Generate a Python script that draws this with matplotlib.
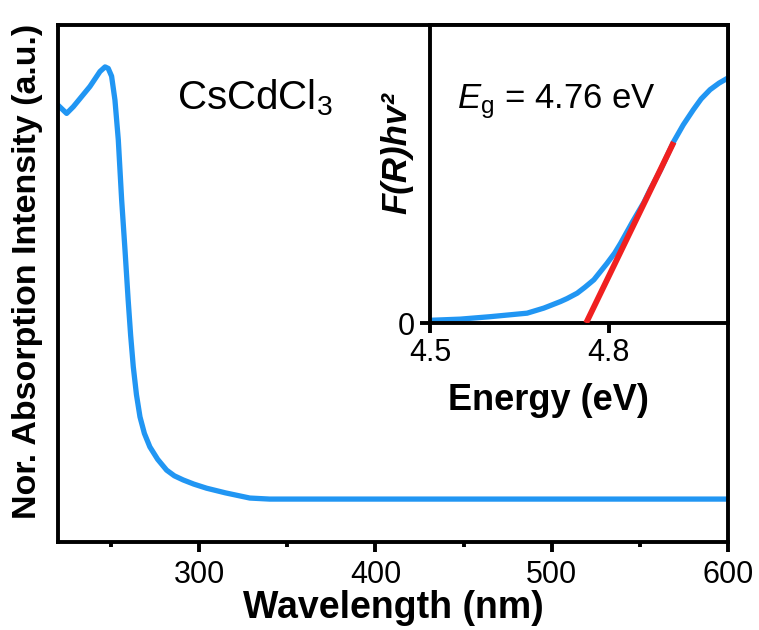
import matplotlib
matplotlib.use("Agg")
import matplotlib.pyplot as plt

plt.rcParams['font.family'] = ['Liberation Sans', 'DejaVu Sans']
plt.rcParams['mathtext.fontset'] = 'custom'
plt.rcParams['mathtext.rm'] = 'Liberation Sans'
plt.rcParams['mathtext.it'] = 'Liberation Sans:italic'
plt.rcParams['mathtext.bf'] = 'Liberation Sans:bold'

# main absorption spectrum (normalised)
wavelength = [220, 224.9, 228.7, 238.1, 243.8, 246.7, 248.5, 250.4, 252.3, 254.2,
              256.1, 258.0, 259.8, 261.2, 262.7, 264.5, 266.5, 269.0, 272.1, 276.5,
              281.6, 286.0, 291.0, 297.0, 304.3, 315.0, 328.8, 340.0, 400.0, 500.0, 600.0]
absorption = [0.845, 0.829, 0.842, 0.881, 0.910, 0.919, 0.916, 0.901, 0.855, 0.778,
              0.662, 0.565, 0.468, 0.400, 0.339, 0.285, 0.242, 0.210, 0.184, 0.160,
              0.139, 0.128, 0.120, 0.112, 0.104, 0.095, 0.085, 0.083, 0.083, 0.083, 0.083]

# inset Tauc plot
energy = [4.50, 4.551, 4.60, 4.663, 4.691, 4.70, 4.719, 4.73, 4.747, 4.76, 4.775,
          4.785, 4.797, 4.81, 4.820, 4.84, 4.859, 4.87, 4.887, 4.909, 4.925, 4.942,
          4.955, 4.970, 4.985, 4.998]
tauc = [0.009, 0.013, 0.021, 0.033, 0.050, 0.057, 0.072, 0.082, 0.100, 0.120, 0.145,
        0.170, 0.200, 0.235, 0.268, 0.340, 0.405, 0.450, 0.514, 0.609, 0.665, 0.716,
        0.752, 0.783, 0.805, 0.820]
fit_x = [4.762, 4.909]
fit_y = [0.0, 0.607]

blue = '#2196F3'
red = '#F02020'

fig = plt.figure(figsize=(7.59, 6.3), dpi=100)
ax = fig.add_axes([0.0764, 0.1397, 0.8828, 0.8206])
ax.plot(wavelength, absorption, color=blue, lw=3.8, solid_joinstyle='round')
ax.set_xlim(220, 600)
ax.set_ylim(0, 1)
ax.set_xticks([300, 400, 500, 600])
ax.set_xticks([250, 350, 450, 550], minor=True)
ax.set_yticks([])
ax.tick_params(axis='x', which='major', direction='out', length=7, width=2.8,
               labelsize=22, pad=6)
ax.tick_params(axis='x', which='minor', direction='out', length=3.8, width=2.8)
for s in ax.spines.values():
    s.set_linewidth(2.8)
ax.set_xlabel('Wavelength (nm)', fontsize=27, fontweight='bold', labelpad=0)
ax.set_ylabel('Nor. Absorption Intensity (a.u.)', fontsize=24.5, fontweight='bold')
ax.yaxis.set_label_coords(-0.022, 0.524)
ax.text(287.4, 0.836, 'CsCdCl$_3$', fontsize=29, ha='left', va='baseline')

# inset
ins = fig.add_axes([0.5665, 0.4873, 0.3926, 0.473])
ins.plot(energy, tauc, color=blue, lw=3.8, solid_joinstyle='round', zorder=2)
ins.plot(fit_x, fit_y, color=red, lw=4.2, solid_capstyle='butt', zorder=3)
ins.set_xlim(4.5, 5.0)
ins.set_ylim(0, 1)
ins.set_xticks([4.5, 4.8])
ins.set_yticks([0])
ins.tick_params(direction='out', length=7, width=2.8, labelsize=22, pad=4)
for s in ins.spines.values():
    s.set_linewidth(2.8)
ins.set_xlabel('Energy (eV)', fontsize=26, fontweight='bold')
ins.xaxis.set_label_coords(0.396, -0.20)
ins.set_ylabel('F(R)hv\u00b2', fontsize=25, fontweight='bold', fontstyle='italic')
ins.yaxis.set_label_coords(-0.057, 0.57)
ins.text(4.545, 0.72, '$E_\\mathrm{g}$ = 4.76 eV', fontsize=25, ha='left', va='baseline')

fig.savefig('out.png', dpi=100)
